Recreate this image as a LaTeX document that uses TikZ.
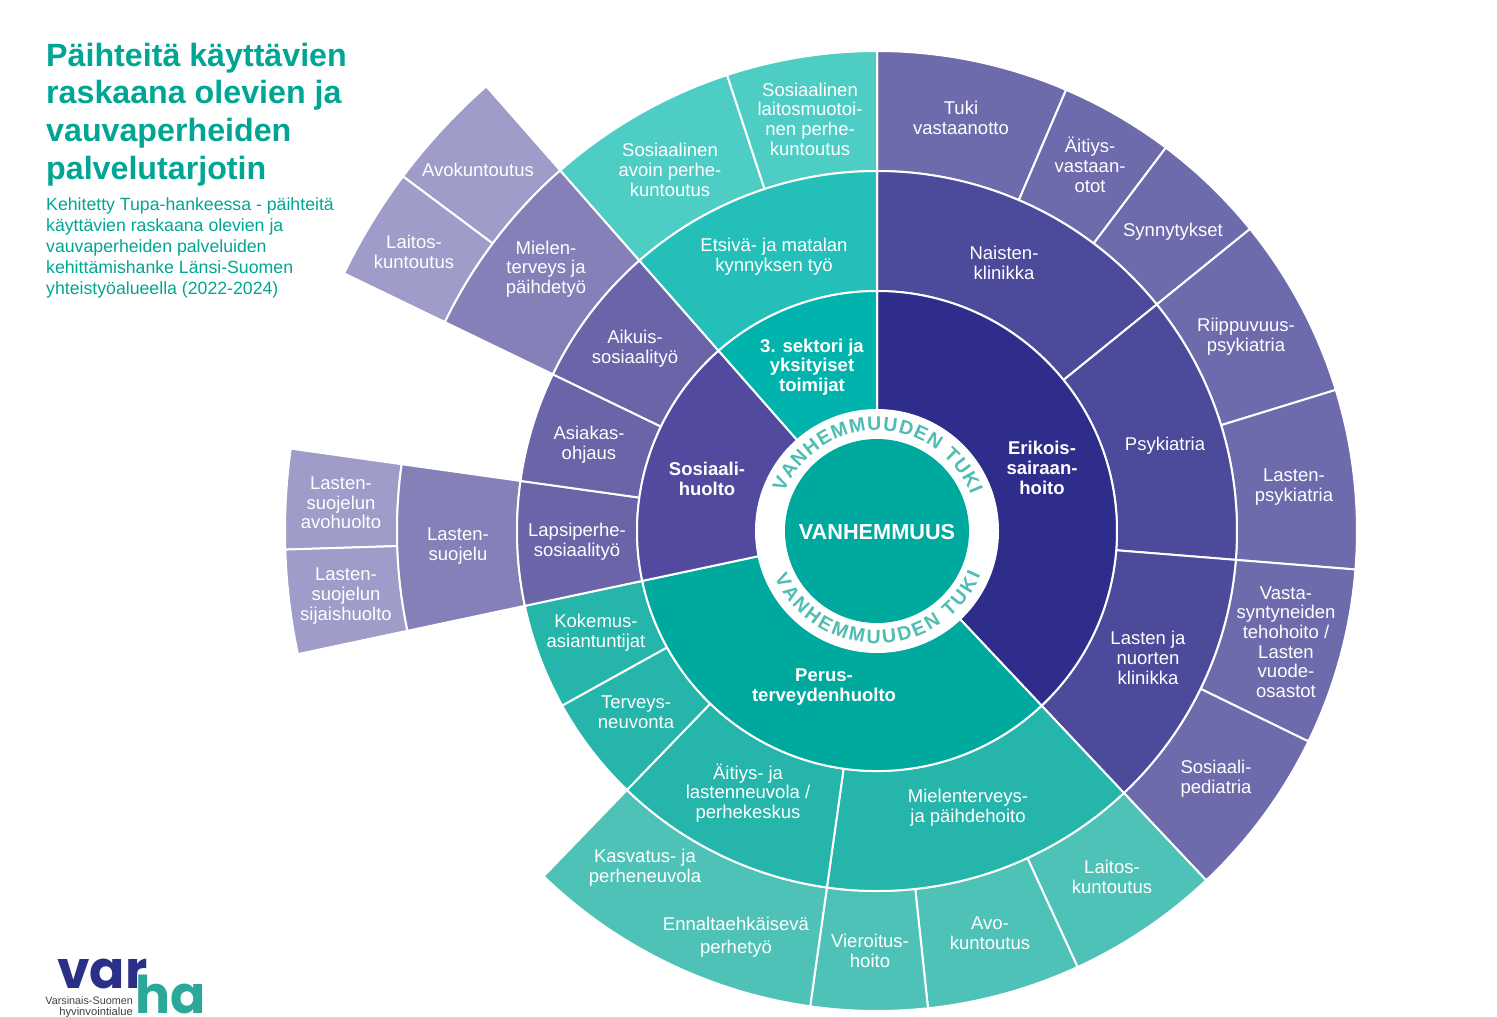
\documentclass[tikz,border=0pt]{standalone}
\usepackage{fontspec}
\setmainfont{Liberation Sans}
\newfontfamily\logof{Poppins}
\usetikzlibrary{decorations.text}
\definecolor{eA}{HTML}{2E2D8C}\definecolor{eB}{HTML}{4C4A9A}\definecolor{eC}{HTML}{6E6BAD}
\definecolor{sA}{HTML}{524A9E}\definecolor{sB}{HTML}{6A64A8}\definecolor{sC}{HTML}{8581B8}\definecolor{sD}{HTML}{9F9CC9}
\definecolor{pA}{HTML}{00A99D}\definecolor{pB}{HTML}{26B5AB}\definecolor{pC}{HTML}{4FC2B7}
\definecolor{tA}{HTML}{00B3AC}\definecolor{tB}{HTML}{24BFB8}\definecolor{tC}{HTML}{4DCDC4}
\definecolor{ttl}{HTML}{00A693}\definecolor{arct}{HTML}{4FBDB1}
\definecolor{logob}{HTML}{2B3087}\definecolor{logot}{HTML}{2BA898}
\tikzset{
  lab/.style={inner sep=0pt,align=center,text=white,font=\fontsize{18.5}{19.7}\selectfont},
  blab/.style={lab,font=\fontsize{18.5}{19.7}\selectfont\bfseries},
  ttlstyle/.style={inner sep=0pt,anchor=base west,align=left,text=ttl},
}
\newcommand\seg[5]{\path[fill=#5,draw=white,line width=2pt,line join=miter]
  (#3:#1pt) arc[start angle=#3,end angle=#4,radius=#1pt] -- (#4:#2pt) arc[start angle=#4,end angle=#3,radius=#2pt] -- cycle;}
\newcommand\lab[4]{\node[lab] (#1) at (#2,-#3) {#4};}
\newcommand\blab[4]{\node[blab] (#1) at (#2,-#3) {#4};}
\begin{document}
\begin{tikzpicture}[x=1pt,y=1pt]
\useasboundingbox (0,0) rectangle (1497,-1017);
\begin{scope}[shift={(877,-531)}]
% outermost
\seg{480}{592}{131.3}{143.2}{sD}
\seg{480}{592}{143.2}{154.2}{sD}
\seg{480}{592}{172}{181.8}{sD}
\seg{480}{592}{181.8}{192}{sD}
% third ring
\seg{360}{480}{90}{66.8}{eC}
\seg{360}{480}{66.8}{53}{eC}
\seg{360}{480}{53}{39}{eC}
\seg{360}{480}{39}{17.1}{eC}
\seg{360}{480}{17.1}{-4.6}{eC}
\seg{360}{480}{-4.6}{-26}{eC}
\seg{360}{480}{-26}{-46.7}{eC}
\seg{360}{480}{-46.7}{-65.3}{pC}
\seg{360}{480}{-65.3}{-83.9}{pC}
\seg{360}{480}{-83.9}{-98}{pC}
\seg{360}{480}{-98}{-134}{pC}
\seg{360}{480}{154.2}{131.3}{sC}
\seg{360}{480}{192}{172}{sC}
\seg{360}{480}{131.3}{108.2}{tC}
\seg{360}{480}{108.2}{90}{tC}
% second ring
\seg{240}{360}{90}{39}{eB}
\seg{240}{360}{39}{-4.6}{eB}
\seg{240}{360}{-4.6}{-46.7}{eB}
\seg{240}{360}{-46.7}{-98}{pB}
\seg{240}{360}{-98}{-134}{pB}
\seg{240}{360}{-134}{-151}{pB}
\seg{240}{360}{-151}{-168}{pB}
\seg{240}{360}{192}{172}{sB}
\seg{240}{360}{172}{154.2}{sB}
\seg{240}{360}{154.2}{131.3}{sB}
\seg{240}{360}{131.3}{90}{tB}
% first ring
\seg{100}{240}{90}{-46.7}{eA}
\seg{100}{240}{-46.7}{-168}{pA}
\seg{100}{240}{192}{131.3}{sA}
\seg{100}{240}{131.3}{90}{tA}
% centre
\fill[white] (0,0) circle[radius=122pt];
\fill[pA] (0,0) circle[radius=92pt];
\path[decorate,decoration={text along path,text align={fit to path},
  text={|\fontsize{19.5}{19.5}\selectfont\bfseries\color{arct}|VANHEMMUUDEN TUKI}}]
  (157.5:100.5pt) arc[start angle=157.5,end angle=21,radius=100.5pt];
\path[decorate,decoration={text along path,text align={fit to path},
  text={|\fontsize{19.5}{19.5}\selectfont\bfseries\color{arct}|VANHEMMUUDEN TUKI}}]
  (204.5:112.5pt) arc[start angle=204.5,end angle=337,radius=112.5pt];
\end{scope}
\node[lab,font=\fontsize{21.7}{24}\selectfont\bfseries] (core) at (877,-532) {VANHEMMUUS};
\blab{sek}{812}{367}{3. sektori ja\\yksityiset\\toimijat}
\blab{eri}{1042}{468}{Erikois-\\sairaan-\\hoito}
\blab{per}{824}{687}{Perus-\\terveydenhuolto}
\blab{sos}{707}{479}{Sosiaali-\\huolto}
\lab{a1}{810}{119}{Sosiaalinen\\laitosmuotoi-\\nen perhe-\\kuntoutus}
\lab{a2}{670}{170}{Sosiaalinen\\avoin perhe-\\kuntoutus}
\lab{a3}{774}{257}{Etsivä- ja matalan\\kynnyksen työ}
\lab{b1}{961}{118}{Tuki\\vastaanotto}
\lab{b2}{1090}{165}{Äitiys-\\vastaan-\\otot}
\lab{b3}{1173}{232}{Synnytykset}
\lab{b4}{1004}{263}{Naisten-\\klinikka}
\lab{b5}{1246}{337}{Riippuvuus-\\psykiatria}
\lab{b6}{1165}{446}{Psykiatria}
\lab{b7}{1294}{487}{Lasten-\\psykiatria}
\lab{b8}{1286}{642}{Vasta-\\syntyneiden\\tehohoito /\\Lasten\\vuode-\\osastot}
\lab{b9}{1148}{658}{Lasten ja\\nuorten\\klinikka}
\lab{b10}{1216}{779}{Sosiaali-\\pediatria}
\lab{c1}{1112}{877}{Laitos-\\kuntoutus}
\lab{c2}{990}{933}{Avo-\\kuntoutus}
\lab{c3}{870}{951}{Vieroitus-\\hoito}
\lab{c4}{968}{808}{Mielenterveys-\\ja päihdehoito}
\node[lab,font=\fontsize{18.5}{23}\selectfont] (c5) at (736,-937) {Ennaltaehkäisevä\\perhetyö};
\lab{c6}{645}{868}{Kasvatus- ja\\perheneuvola}
\lab{c7}{748}{793}{Äitiys- ja\\lastenneuvola /\\perhekeskus}
\lab{c8}{636}{712}{Terveys-\\neuvonta}
\lab{c9}{596}{633}{Kokemus-\\asiantuntijat}
\lab{d1}{577}{542}{Lapsiperhe-\\sosiaalityö}
\lab{d2}{589}{445}{Asiakas-\\ohjaus}
\lab{d3}{635}{349}{Aikuis-\\sosiaalityö}
\lab{d4}{458}{546}{Lasten-\\suojelu}
\lab{d5}{341}{503}{Lasten-\\suojelun\\avohuolto}
\lab{d6}{346}{596}{Lasten-\\suojelun\\sijaishuolto}
\lab{d7}{478}{170}{Avokuntoutus}
\lab{d8}{414}{252}{Laitos-\\kuntoutus}
\lab{d9}{546}{269}{Mielen-\\terveys ja\\päihdetyö}
% title
\node[ttlstyle,font=\fontsize{32.2}{37.6}\selectfont\bfseries] (title) at (46,-179)
  {Päihteitä käyttävien\\raskaana olevien ja\\vauvaperheiden\\palvelutarjotin};
\node[ttlstyle,font=\fontsize{17.7}{20.8}\selectfont] (sub) at (46,-294)
  {Kehitetty Tupa-hankeessa - päihteitä\\käyttävien raskaana olevien ja\\vauvaperheiden palveluiden\\kehittämishanke Länsi-Suomen\\yhteistyöalueella (2022-2024)};
% logo
\node[inner sep=0pt,anchor=base west,text=logob,font=\fontsize{52}{52}\logof\bfseries] (lvar) at (57,-988) {var};
\node[inner sep=0pt,anchor=base west,text=logot,font=\fontsize{52}{52}\logof\bfseries] (lha) at (135,-1013) {ha};
\node[inner sep=0pt,anchor=base east,text=black!75,font=\fontsize{10.8}{10.8}\selectfont] (l1) at (133,-1004) {Varsinais-Suomen};
\node[inner sep=0pt,anchor=base east,text=black!75,font=\fontsize{11.2}{11.2}\selectfont] (l2) at (133,-1015) {hyvinvointialue};
\end{tikzpicture}
\end{document}
